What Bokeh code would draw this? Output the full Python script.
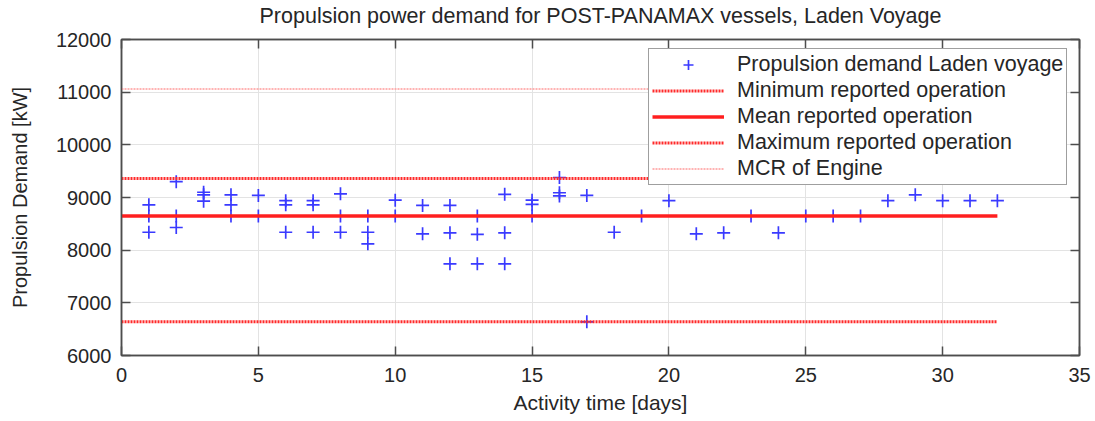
from bokeh.plotting import figure
from bokeh.models import Range1d, LinearAxis, FixedTicker, Legend, LegendItem
from bokeh.embed import file_html
from bokeh.resources import INLINE

# Daily propulsion demand samples, laden voyage [kW]
days = [1, 1, 1,
        2, 2, 2,
        3, 3, 3,
        4, 4, 4,
        5, 5,
        6, 6, 6,
        7, 7, 7,
        8, 8, 8,
        9, 9, 9,
        10, 10,
        11, 11,
        12, 12, 12,
        13, 13, 13,
        14, 14, 14,
        15, 15, 15,
        16, 16, 16,
        17, 17,
        18, 19, 20, 21, 22, 23, 24, 25, 26, 27, 28, 29, 30, 31, 32]
demand_kw = [8860, 8650, 8340,
             9300, 8650, 8430,
             9100, 9050, 8930,
             9050, 8860, 8650,
             9040, 8650,
             8940, 8860, 8340,
             8940, 8860, 8340,
             9070, 8650, 8340,
             8650, 8340, 8120,
             8950, 8650,
             8850, 8310,
             8850, 8330, 7740,
             8650, 8300, 7740,
             9060, 8330, 7740,
             8950, 8870, 8650,
             9380, 9090, 9030,
             9040, 6640,
             8340, 8650, 8940, 8310, 8330, 8650, 8330, 8650, 8650, 8650,
             8940, 9050, 8940, 8940, 8940]

# Reference levels [kW]
min_reported = 6640
mean_reported = 8650
max_reported = 9360
mcr_engine = 11060
level_span = [0, 32]

x_ticks = [0, 5, 10, 15, 20, 25, 30, 35]
y_ticks = [6000, 7000, 8000, 9000, 10000, 11000, 12000]

title_text = "Propulsion power demand for POST-PANAMAX vessels, Laden Voyage"

FONT = "Liberation Sans"
TEXT = "#262626"
AXIS = "#4d4d4d"

p = figure(width=1095, height=421, output_backend="svg", toolbar_location=None,
           x_range=Range1d(0, 35), y_range=Range1d(6000, 12000),
           min_border_left=121, min_border_right=16, min_border_top=39,
           min_border_bottom=66, title=title_text)

p.title.align = "center"
p.title.text_font = FONT
p.title.text_font_size = "21.5px"
p.title.text_font_style = "normal"
p.title.text_color = TEXT
p.title.standoff = 0
p.title.padding = dict(left=0, right=0, top=0, bottom=12)

p.outline_line_color = AXIS
p.outline_line_width = 1.5
p.background_fill_color = "white"
p.border_fill_color = "white"

p.xgrid.ticker = FixedTicker(ticks=x_ticks)
p.ygrid.ticker = FixedTicker(ticks=y_ticks)
p.grid.grid_line_color = "#e3e3e3"
p.grid.grid_line_width = 1


def style_axis(ax, ticks):
    ax.ticker = FixedTicker(ticks=ticks)
    ax.axis_line_color = AXIS
    ax.axis_line_width = 1.5
    ax.major_tick_in = 9
    ax.major_tick_out = 0
    ax.major_tick_line_color = AXIS
    ax.major_tick_line_width = 1.5
    ax.minor_tick_line_color = None
    ax.major_label_text_font = FONT
    ax.major_label_text_font_size = "20px"
    ax.major_label_text_color = TEXT
    ax.axis_label_text_font = FONT
    ax.axis_label_text_font_style = "normal"
    ax.axis_label_text_color = TEXT


style_axis(p.xaxis[0], x_ticks)
style_axis(p.yaxis[0], y_ticks)
p.xaxis.axis_label = "Activity time [days]"
p.xaxis.axis_label_text_font_size = "21px"
p.xaxis.major_label_standoff = 12
p.xaxis.axis_label_standoff = 6
p.yaxis.axis_label = "Propulsion Demand [kW]"
p.yaxis.axis_label_text_font_size = "20px"
p.yaxis.major_label_standoff = 10
p.yaxis.axis_label_standoff = 22

# Box axes: ticks on top and right, labels not drawn
top_ax = LinearAxis()
right_ax = LinearAxis()
style_axis(top_ax, x_ticks)
style_axis(right_ax, y_ticks)
for ax in (top_ax, right_ax):
    ax.major_label_text_color = None
    ax.major_label_text_font_size = "1px"
    ax.major_label_standoff = 0
p.add_layout(top_ax, "above")
p.add_layout(right_ax, "right")

pts = p.scatter(days, demand_kw, marker="cross", size=13, line_color="#3a3aff",
                line_width=1.7)
r_min = p.line(level_span, [min_reported, min_reported], line_color="#ff2a2a",
               line_width=3, line_dash="2 1")
r_mean = p.line(level_span, [mean_reported, mean_reported], line_color="#ff1f1f",
                line_width=3.5)
r_max = p.line(level_span, [max_reported, max_reported], line_color="#ff2a2a",
               line_width=3, line_dash="2 1")
r_mcr = p.line(level_span, [mcr_engine, mcr_engine], line_color="#ff9a9a",
               line_width=1.5, line_dash="2 1")

legend = Legend(items=[
    LegendItem(label="Propulsion demand Laden voyage", renderers=[pts]),
    LegendItem(label="Minimum reported operation", renderers=[r_min]),
    LegendItem(label="Mean reported operation", renderers=[r_mean]),
    LegendItem(label="Maximum reported operation", renderers=[r_max]),
    LegendItem(label="MCR of Engine", renderers=[r_mcr]),
], location=(527, 170))
legend.label_text_font = FONT
legend.label_text_font_size = "21.5px"
legend.label_text_color = TEXT
legend.glyph_width = 72
legend.glyph_height = 25
legend.label_height = 20
legend.label_standoff = 13
legend.spacing = 1
legend.padding = 3
legend.margin = 0
legend.border_line_color = "#404040"
legend.border_line_width = 1.5
legend.background_fill_color = "white"
legend.background_fill_alpha = 1
p.add_layout(legend, "center")

open("out.html", "w").write(file_html(p, INLINE))
